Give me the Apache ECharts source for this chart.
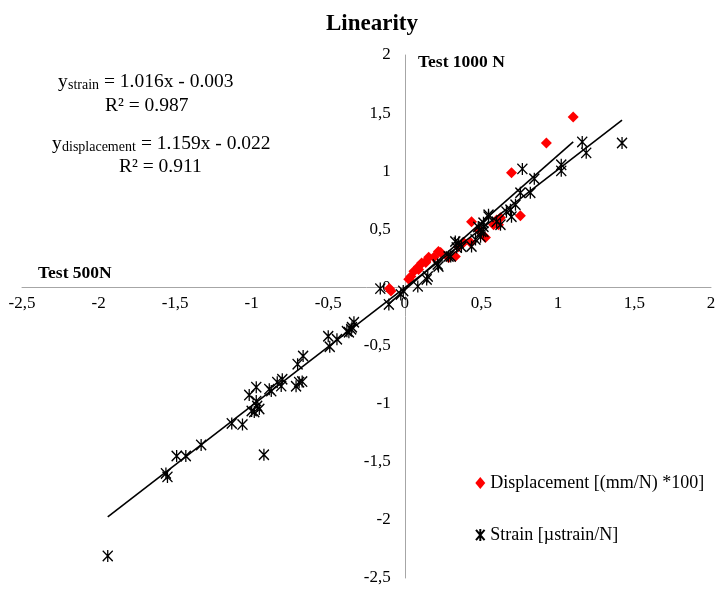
<!DOCTYPE html>
<html><head><meta charset="utf-8">
<script src="https://cdn.jsdelivr.net/npm/echarts@6/dist/echarts.min.js"></script>
<style>html,body{margin:0;padding:0;background:#fff}#c{width:717px;height:594px}</style>
</head><body><div id="c"></div>
<script>
// ---- data ----
const strainX = [-1.94,-1.56,-1.55,-1.49,-1.43,-1.33,-1.13,-1.06,-0.92,-1.016,-0.97,-1.00,-0.964,-0.97,-0.95,-0.983,
  -0.872,-0.885,-0.833,-0.80,-0.807,-0.71,-0.69,-0.67,-0.70,-0.664,-0.50,-0.49,-0.443,-0.378,-0.365,-0.35,-0.345,-0.332,
  -0.104,-0.16,-0.026,-0.01,0.085,0.15,0.143,0.215,0.22,0.286,0.30,0.339,0.352,0.33,0.37,0.436,0.462,0.495,0.50,0.514,
  0.547,0.547,0.514,0.48,0.514,0.60,0.625,0.664,0.69,0.697,0.723,0.755,0.82,0.846,0.768,1.022,1.022,1.159,1.185,1.419];
const strainY = [-2.31,-1.60,-1.63,-1.45,-1.45,-1.355,-1.17,-1.18,-1.44,-0.926,-0.858,-1.063,-1.02,-0.978,-1.046,-1.072,
  -0.892,-0.875,-0.815,-0.79,-0.849,-0.85,-0.815,-0.81,-0.66,-0.59,-0.42,-0.51,-0.446,-0.377,-0.386,-0.36,-0.343,-0.30,
  -0.146,-0.01,-0.06,-0.03,0.009,0.094,0.069,0.197,0.18,0.266,0.266,0.343,0.386,0.395,0.35,0.352,0.412,0.437,0.48,0.523,
  0.609,0.626,0.557,0.52,0.48,0.566,0.54,0.652,0.669,0.609,0.712,0.815,0.815,0.935,1.02,1.055,1.003,1.252,1.158,1.243];
const dispX = [-0.09,-0.10,0.026,0.04,0.06,0.09,0.09,0.11,0.137,0.137,0.156,0.19,0.22,0.234,0.286,0.33,0.35,0.384,0.43,
  0.436,0.48,0.527,0.58,0.60,0.612,0.625,0.697,0.755,0.925,1.10];
const dispY = [-0.03,-0.01,0.07,0.094,0.14,0.18,0.154,0.21,0.223,0.214,0.26,0.26,0.31,0.30,0.257,0.266,0.35,0.386,0.386,
  0.566,0.497,0.429,0.54,0.58,0.54,0.60,0.986,0.617,1.243,1.467];
const strainFit = [1.016, -0.003];
const dispFit = [1.159, -0.022];
const axisMin = -2.5, axisMax = 2, axisStep = 0.5;
const seriesNames = ['Displacement [(mm/N) *100]', 'Strain [µstrain/N]'];
const titleText = 'Linearity';

// ---- build ----
const FF = '"Liberation Serif","Times New Roman",serif';
const pts = (xs, ys) => xs.map((x, i) => [x, ys[i]]);
const fitLine = (xs, f) => {
  const lo = Math.min(...xs), hi = Math.max(...xs);
  return [[lo, f[0] * lo + f[1]], [hi, f[0] * hi + f[1]]];
};
const STAR = 'path://M0,0L10,12M10,0L0,12M5,-1L5,13';
const fmt = v => String(Math.round(v * 10) / 10).replace('.', ',');
const axisCommon = {
  type: 'value', min: axisMin, max: axisMax, interval: axisStep,
  axisLine: { onZero: false, lineStyle: { color: '#a6a6a6', width: 1 } },
  axisTick: { show: false }, splitLine: { show: false },
};
const GRID = { left: 22, right: 6, top: 55, bottom: 16 };
const chart = echarts.init(document.getElementById('c'));
chart.setOption({
  backgroundColor: '#fff',
  animation: false,
  title: { text: titleText, left: 321, top: 8, textStyle: { fontFamily: FF, fontSize: 23, fontWeight: 'bold', color: '#000' } },
  grid: Object.assign({ containLabel: false, outerBoundsMode: 'none' }, GRID),
  xAxis: Object.assign({}, axisCommon, { position: 'bottom', axisLabel: { formatter: fmt, fontFamily: FF, fontSize: 17, color: '#000', margin: 8 } }),
  yAxis: Object.assign({}, axisCommon, { position: 'left', axisLabel: { formatter: fmt, fontFamily: FF, fontSize: 17, color: '#000', margin: 14 } }),
  legend: {
    data: [{ name: seriesNames[0], icon: 'diamond' }, { name: seriesNames[1], icon: STAR }],
    orient: 'vertical', left: 470, top: 469, itemGap: 34, itemWidth: 10, itemHeight: 12,
    textStyle: { fontFamily: FF, fontSize: 18, color: '#000' }
  },
  series: [
    { name: seriesNames[0], type: 'scatter', data: pts(dispX, dispY), symbol: 'diamond', symbolSize: 11,
      itemStyle: { color: '#ff0000', opacity: 1 }, z: 2 },
    { name: seriesNames[1], type: 'scatter', data: pts(strainX, strainY), symbol: STAR, symbolSize: [10, 12],
      itemStyle: { color: 'rgba(0,0,0,0)', borderColor: '#000', borderWidth: 1.4, opacity: 1 }, z: 3 },
    { name: 'fitStrain', type: 'line', data: fitLine(strainX, strainFit), symbol: 'none', silent: true,
      lineStyle: { color: '#000', width: 1.6 }, z: 4 },
    { name: 'fitDisp', type: 'line', data: fitLine(dispX, dispFit), symbol: 'none', silent: true,
      lineStyle: { color: '#000', width: 1.6 }, z: 4 }
  ],
  graphic: [
    { type: 'text', left: 418, top: 53, style: { text: 'Test 1000 N', font: 'bold 17.5px ' + FF, fill: '#000' } },
    { type: 'text', left: 38, top: 264, style: { text: 'Test 500N', font: 'bold 17.5px ' + FF, fill: '#000' } },
    { type: 'text', x: 58, y: 82, style: { text: 'y', font: '19.5px ' + FF, fill: '#000', verticalAlign: 'middle' } },
    { type: 'text', x: 68, y: 85, style: { text: 'strain', font: '14px ' + FF, fill: '#000', verticalAlign: 'middle' } },
    { type: 'text', x: 104, y: 82, style: { text: '= 1.016x - 0.003', font: '19.5px ' + FF, fill: '#000', verticalAlign: 'middle' } },
    { type: 'text', x: 105, y: 106, style: { text: 'R² = 0.987', font: '19.5px ' + FF, fill: '#000', verticalAlign: 'middle' } },
    { type: 'text', x: 52, y: 144, style: { text: 'y', font: '19.5px ' + FF, fill: '#000', verticalAlign: 'middle' } },
    { type: 'text', x: 62, y: 147, style: { text: 'displacement', font: '14px ' + FF, fill: '#000', verticalAlign: 'middle' } },
    { type: 'text', x: 141, y: 144, style: { text: '= 1.159x - 0.022', font: '19.5px ' + FF, fill: '#000', verticalAlign: 'middle' } },
    { type: 'text', x: 119, y: 167, style: { text: 'R² = 0.911', font: '19.5px ' + FF, fill: '#000', verticalAlign: 'middle' } }
  ]
});
// move both axes (line + labels) onto the zero crossing, using the library's own scale
let rect;
try { rect = chart.getModel().getComponent('grid', 0).coordinateSystem.getRect(); }
catch (e) { rect = { x: GRID.left, y: GRID.top, width: 717 - GRID.left - GRID.right, height: 594 - GRID.top - GRID.bottom }; }
const p0 = chart.convertToPixel({ gridIndex: 0 }, [0, 0]);
chart.setOption({
  xAxis: { offset: -((rect.y + rect.height) - p0[1]) },
  yAxis: { offset: -(p0[0] - rect.x) }
});
</script></body></html>
